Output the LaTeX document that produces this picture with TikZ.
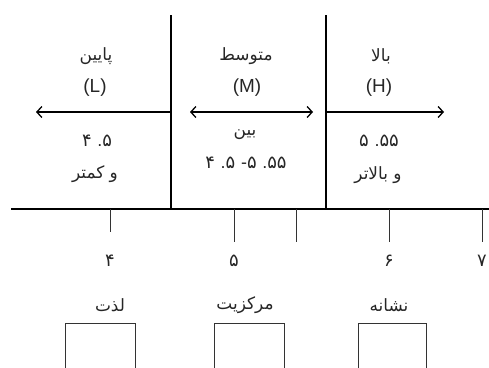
\documentclass[tikz,border=0pt]{standalone}
\usepackage{fontspec}
\setmainfont{Liberation Sans}
\newfontfamily\arabicfont[Script=Arabic]{DejaVu Sans}
\newfontfamily\latinfont{Liberation Sans}
\newcommand{\dt}{{\latinfont .}}
\newcommand{\dsh}{{\latinfont -}}
\TeXXeTstate=1
\usetikzlibrary{arrows.meta}
\tikzset{
  line/.style={line width=1.3pt, draw=black},
  thin/.style={line width=0.7pt, draw=black!80},
  ar/.style={font=\arabicfont\fontsize{17}{19}\selectfont, text=black!85, inner sep=0pt},
  lat/.style={font=\fontsize{19}{21}\selectfont, text=black!85, inner sep=0pt},
  num/.style={font=\arabicfont\fontsize{18}{20}\selectfont, text=black!85, inner sep=0pt},
  boxx/.style={draw=black!80, line width=0.7pt}
}
\begin{document}
\begin{tikzpicture}[x=1bp,y=-1bp]
\useasboundingbox (0,0) rectangle (489,367);
% coordinates
\coordinate (v1t) at (171,15);
\coordinate (v1b) at (171,209);
\coordinate (v2t) at (326,15);
\coordinate (v2b) at (326,209);
\coordinate (hl) at (11,209);
\coordinate (hr) at (489,209);
\draw[line] (v1t) -- (v1b);
\draw[line] (v2t) -- (v2b);
\draw[line] (hl) -- (hr);
% arrows
\coordinate (a1s) at (171,112);
\coordinate (a1e) at (36,112);
\coordinate (a2s) at (190,112);
\coordinate (a2e) at (313,112);
\coordinate (a3s) at (326,112);
\coordinate (a3e) at (444,112);
\draw[line, -{Straight Barb[length=5pt,width=11pt,line width=1.3pt]}] (a1s) -- (a1e);
\draw[line, {Straight Barb[length=5pt,width=11pt,line width=1.3pt]}-{Straight Barb[length=5pt,width=11pt,line width=1.3pt]}] (a2s) -- (a2e);
\draw[line, -{Straight Barb[length=5pt,width=11pt,line width=1.3pt]}] (a3s) -- (a3e);
% top labels
\node[ar] (low) at (96,56) {\beginR پایین\endR};
\node[lat] (L) at (95,88) {(L)};
\node[ar] (mid) at (246,56) {\beginR متوسط\endR};
\node[lat] (M) at (247,88) {(M)};
\node[ar] (high) at (381,56) {\beginR بالا\endR};
\node[lat] (H) at (379,88) {(H)};
% below arrows
\node[num] (n1) at (97,141) {\beginR\beginL ۴ \dt۵\endL\endR};
\node[ar] (t1) at (95,174) {\beginR و کمتر\endR};
\node[ar] (t2) at (245,135) {\beginR بین\endR};
\node[num] (n2) at (246,163) {\beginR\beginL ۴ \dt۵ \dsh۵ \dt۵۵\endL\endR};
\node[num] (n3) at (379,141) {\beginR\beginL ۵ \dt۵۵\endL\endR};
\node[ar] (t3) at (378,175) {\beginR و بالاتر\endR};
% ticks
\foreach \x/\y/\n in {110/232/k1, 234/242/k2, 296/242/k3, 389/242/k4, 482/242/k5}{
  \coordinate (\n t) at (\x,209);
  \coordinate (\n b) at (\x,\y);
  \draw[thin] (\n t) -- (\n b);
}
% digits
\node[num] (d4) at (110,261) {۴};
\node[num] (d5) at (234,261) {۵};
\node[num] (d6) at (389,261) {۶};
\node[num] (d7) at (482,261) {۷};
% labels
\node[ar] (lz) at (110,305) {\beginR لذت\endR};
\node[ar] (mk) at (245,305) {\beginR مرکزیت\endR};
\node[ar] (ns) at (389,305) {\beginR نشانه\endR};
% boxes
\draw[boxx] (65,380) -- (65,323) -- (135,323) -- (135,380);
\draw[boxx] (214,380) -- (214,323) -- (284,323) -- (284,380);
\draw[boxx] (358,380) -- (358,323) -- (426,323) -- (426,380);
\end{tikzpicture}
\end{document}
